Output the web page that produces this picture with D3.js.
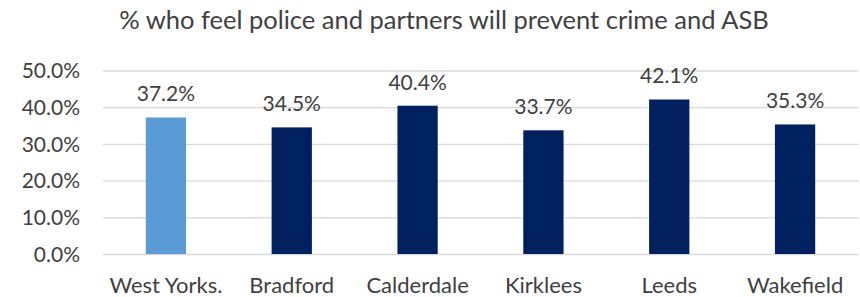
<!DOCTYPE html>
<html>
<head>
<meta charset="utf-8">
<script src="https://cdn.jsdelivr.net/npm/d3@7"></script>
<style>
  body { margin: 0; background: #fff; }
  text { font-family: Lato, "Liberation Sans", sans-serif; fill: #404040; }
</style>
</head>
<body>
<script>
'use strict';

// chart data
const categories = ["West Yorks.", "Bradford", "Calderdale", "Kirklees", "Leeds", "Wakefield"];
const values = [37.2, 34.5, 40.4, 33.7, 42.1, 35.3];
const yTicks = [0, 10, 20, 30, 40, 50];
const title = "% who feel police and partners will prevent crime and ASB";

const size = { width: 860, height: 297 };
const plot = { left: 103, right: 858, top: 70.5, bottom: 254 };

const svg = d3.select('body')
  .append('svg')
  .attr('width', size.width)
  .attr('height', size.height);

// scales
const x = d3.scaleBand()
  .domain(categories)
  .range([plot.left, plot.right])
  .paddingInner(0.68)
  .paddingOuter(0.34);

const y = d3.scaleLinear()
  .domain([0, 50])
  .range([plot.bottom, plot.top]);

// gridlines + y labels
const yAxis = d3.axisLeft(y)
  .tickValues(yTicks)
  .tickSize(-(plot.right - plot.left))
  .tickPadding(23)
  .tickFormat(d => d.toFixed(1) + '%');

const yg = svg.append('g')
  .attr('transform', `translate(${plot.left},0)`)
  .call(yAxis);
yg.select('.domain').remove();
yg.selectAll('.tick line')
  .attr('stroke', '#d9d9d9')
  .attr('stroke-width', 1.3);
yg.selectAll('.tick text')
  .attr('font-size', '21px')
  .attr('dy', '0.34em');

// bars
svg.selectAll('.bar')
  .data(values)
  .enter()
  .append('rect')
  .attr('class', 'bar')
  .attr('x', (d, i) => x(categories[i]))
  .attr('y', d => y(d))
  .attr('width', x.bandwidth())
  .attr('height', d => y(0) - y(d))
  .attr('fill', (d, i) => i === 0 ? '#5b9bd5' : '#002060');

// value labels
svg.selectAll('.val')
  .data(values)
  .enter()
  .append('text')
  .attr('class', 'val')
  .attr('x', (d, i) => x(categories[i]) + x.bandwidth() / 2)
  .attr('y', d => y(d) - 16)
  .attr('text-anchor', 'middle')
  .attr('font-size', '21px')
  .text(d => d.toFixed(1) + '%');

// x labels
const xAxis = d3.axisBottom(x).tickSize(0).tickPadding(0);
const xg = svg.append('g')
  .attr('transform', `translate(0,${plot.bottom})`)
  .call(xAxis);
xg.select('.domain').remove();
xg.selectAll('.tick text')
  .attr('font-size', '22px')
  .attr('dy', null)
  .attr('y', 39);

// title
svg.append('text')
  .attr('x', 444)
  .attr('y', 29)
  .attr('text-anchor', 'middle')
  .attr('font-size', '25.5px')
  .text(title);
</script>
</body>
</html>
